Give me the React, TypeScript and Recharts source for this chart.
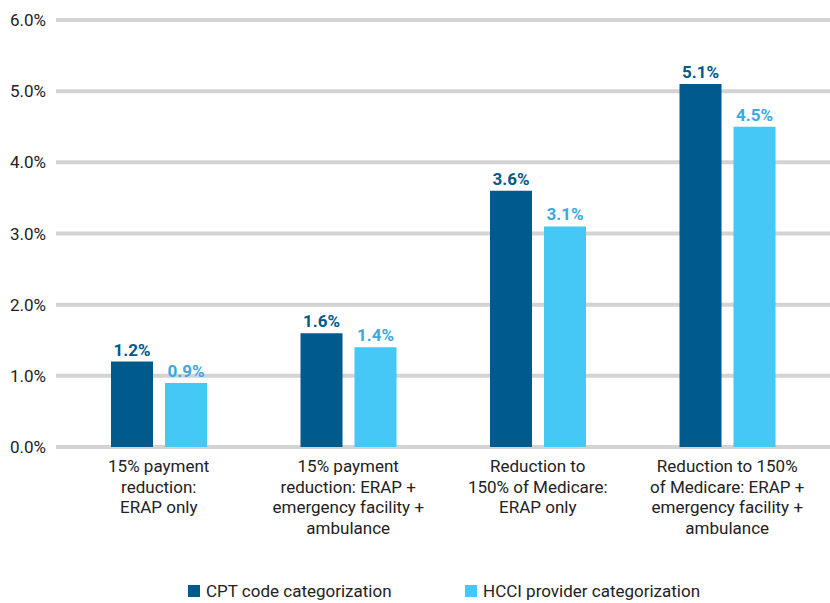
import React from 'react';
import { BarChart, Bar, XAxis, YAxis, CartesianGrid, LabelList, Legend } from 'recharts';

const CATEGORIES = [
  ['15% payment', 'reduction:', 'ERAP only'],
  ['15% payment', 'reduction: ERAP +', 'emergency facility +', 'ambulance'],
  ['Reduction to', '150% of Medicare:', 'ERAP only'],
  ['Reduction to 150%', 'of Medicare: ERAP +', 'emergency facility +', 'ambulance'],
];
const CPT_VALUES = [1.2, 1.6, 3.6, 5.1];
const HCCI_VALUES = [0.9, 1.4, 3.1, 4.5];
const Y_TICKS = [0, 1, 2, 3, 4, 5, 6];

const DARK = '#005A8C';
const LIGHT = '#45C8F5';
const LIGHT_TEXT = '#3AA9E0';
const FONT = 'Roboto, "DejaVu Sans", sans-serif';
const FS = 17;

const data = CATEGORIES.map((lines, i) => ({
  key: String(i),
  cpt: CPT_VALUES[i],
  hcci: HCCI_VALUES[i],
}));

function CategoryTick(props: any) {
  const { x, y, payload } = props;
  const lines = CATEGORIES[Number(payload.value)] || [];
  return (
    <text x={x} y={y} textAnchor="middle" fill="#222" fontSize={FS} fontFamily={FONT}>
      {lines.map((line, i) => (
        <tspan key={i} x={x} y={y + 17 + i * 20.5}>
          {line}
        </tspan>
      ))}
    </text>
  );
}

function LegendContent() {
  const items = [
    { label: 'CPT code categorization', color: DARK, width: 277 },
    { label: 'HCCI provider categorization', color: LIGHT, width: 270 },
  ];
  return (
    <div style={{ display: 'flex', paddingLeft: 188, paddingTop: 14, fontFamily: FONT, fontSize: FS, color: '#222', lineHeight: '20px' }}>
      {items.map((it) => (
        <div key={it.label} style={{ display: 'flex', alignItems: 'center', width: it.width }}>
          <span style={{ display: 'inline-block', width: 12, height: 12, background: it.color, marginRight: 6 }} />
          <span>{it.label}</span>
        </div>
      ))}
    </div>
  );
}

export default function App() {
  return (
    <div style={{ position: 'absolute', left: 0, top: 0, background: '#fff' }}>
      <BarChart
        width={830}
        height={603}
        data={data}
        margin={{ top: 20, right: 0, left: 0, bottom: 0 }}
        barSize={42}
        barGap={12}
      >
        <CartesianGrid vertical={false} stroke="#d3d3d3" strokeWidth={4} />
        <XAxis
          dataKey="key"
          axisLine={false}
          tickLine={false}
          height={120}
          interval={0}
          padding={{ left: 8, right: 8 }}
          tick={<CategoryTick />}
        />
        <YAxis
          domain={[0, 6]}
          ticks={Y_TICKS}
          width={56}
          axisLine={false}
          tickLine={false}
          tickMargin={4}
          tickFormatter={(v: number) => `${v.toFixed(1)}%`}
          tick={{ fill: '#222', fontSize: FS, fontFamily: FONT }}
        />
        <Legend verticalAlign="bottom" height={36} content={<LegendContent />} />
        <Bar dataKey="cpt" fill={DARK} isAnimationActive={false}>
          <LabelList
            dataKey="cpt"
            position="top"
            offset={6}
            formatter={(v: any) => `${Number(v).toFixed(1)}%`}
            style={{ fill: DARK, fontWeight: 700, fontSize: FS, fontFamily: FONT }}
          />
        </Bar>
        <Bar dataKey="hcci" fill={LIGHT} isAnimationActive={false}>
          <LabelList
            dataKey="hcci"
            position="top"
            offset={6}
            formatter={(v: any) => `${Number(v).toFixed(1)}%`}
            style={{ fill: LIGHT_TEXT, fontWeight: 700, fontSize: FS, fontFamily: FONT }}
          />
        </Bar>
      </BarChart>
    </div>
  );
}
